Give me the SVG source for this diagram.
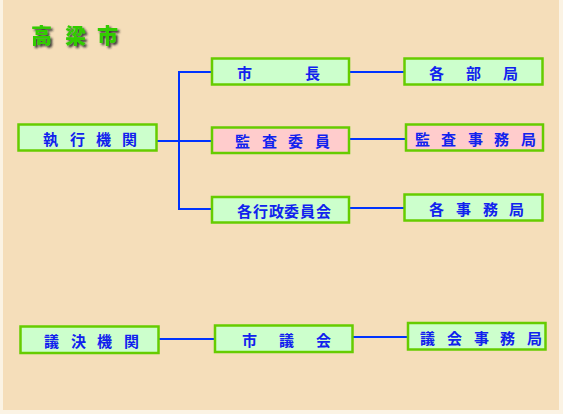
<svg xmlns="http://www.w3.org/2000/svg" width="563" height="414" viewBox="0 0 563 414">
<defs>
<filter id="sh" x="-20%" y="-20%" width="140%" height="140%">
<feDropShadow dx="2" dy="2" stdDeviation="0.8" flood-color="#222222" flood-opacity="0.9"/>
</filter>
<style>
.box{fill:#CCFFCC;stroke:#66CC00;stroke-width:2.5}
.pink{fill:#FFCCCC}
.t{font-family:"Noto Sans CJK JP","Noto Sans CJK SC",sans-serif;font-weight:bold;font-size:15px;fill:#1122EE;dominant-baseline:central}
.ln{stroke:#0033FF;stroke-width:2;fill:none}
.title{font-family:"Noto Sans CJK JP","Noto Sans CJK SC",sans-serif;font-weight:900;font-size:21px;fill:#33CC00;filter:url(#sh)}
</style>
</defs>
<rect x="0" y="0" width="563" height="414" fill="#FBF3E4"/>
<rect x="3" y="0" width="556" height="410" fill="#F5DEBA"/>
<g id="title">
<text class="title" x="31 65 97" y="43">高梁市</text>
</g>
<g id="connectors">
<path class="ln" d="M157 141H179M179 71V210M179 72H212M179 141H212M179 209H212"/>
<path class="ln" d="M349 72H404M349 139H406M349 208H404"/>
<path class="ln" d="M159 339H215M353 337H408"/>
</g>
<g id="shikkou">
<rect class="box" x="18.5" y="124.5" width="138" height="26"/>
<text class="t" x="43 70 96 122" y="138">執行機関</text>
</g>
<g id="shichou">
<rect class="box" x="212" y="58.5" width="137" height="26"/>
<text class="t" x="237 305" y="72">市長</text>
</g>
<g id="kakubukyoku">
<rect class="box" x="404.5" y="58.5" width="138" height="26"/>
<text class="t" x="429 466 503" y="72">各部局</text>
</g>
<g id="kansa">
<rect class="box pink" x="212" y="127.5" width="137" height="25.5"/>
<text class="t" x="235 262 288 315" y="140">監査委員</text>
</g>
<g id="kansajimukyoku">
<rect class="box pink" x="406" y="124.5" width="137" height="26"/>
<text class="t" x="415 441 468 494 521" y="138">監査事務局</text>
</g>
<g id="gyousei">
<rect class="box" x="212" y="197" width="137" height="25.5"/>
<text class="t" x="237 253 269 284 300 316" y="210">各行政委員会</text>
</g>
<g id="kakujimukyoku">
<rect class="box" x="404.5" y="194.5" width="138" height="26"/>
<text class="t" x="429 456 483 509" y="208">各事務局</text>
</g>
<g id="giketsu">
<rect class="box" x="20.5" y="326.5" width="138" height="26.5"/>
<text class="t" x="44 71 97 124" y="340">議決機関</text>
</g>
<g id="shigikai">
<rect class="box" x="215" y="325.5" width="137.5" height="26.5"/>
<text class="t" x="242 279 316" y="339">市議会</text>
</g>
<g id="gikaijimukyoku">
<rect class="box" x="408" y="323" width="137.5" height="26.5"/>
<text class="t" x="420 447 474 500 527" y="337">議会事務局</text>
</g>
</svg>
